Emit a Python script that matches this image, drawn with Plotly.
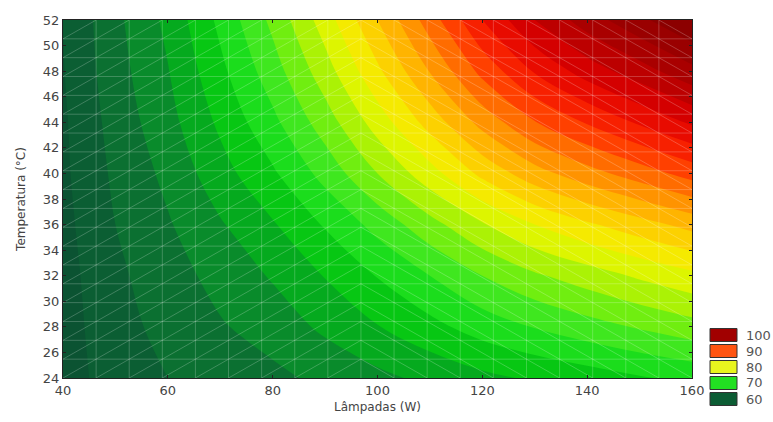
import numpy as np
import plotly.graph_objects as go

# Lâmpadas (W) grid positions
lampadas = [40, 50, 60, 70, 80, 90, 100, 110, 120, 130, 140, 150, 160]
# Temperatura (°C) grid positions
temperatura = [24, 28, 32, 36, 40, 44, 48, 52]

# response values (rows = temperatura, cols = lampadas)
z_t24 = [57.0, 59.0, 60.0, 60.8, 61.5, 62.5, 63.5, 64.5, 65.5, 66.3, 67.0, 67.8, 68.5]
z_t28 = [57.1, 59.3, 60.6, 61.8, 62.9, 64.4, 65.9, 67.4, 68.9, 70.1, 71.2, 72.2, 73.2]
z_t32 = [57.2, 59.6, 61.1, 62.7, 64.2, 66.1, 68.1, 70.0, 72.0, 73.7, 75.0, 76.3, 77.5]
z_t36 = [57.4, 60.0, 61.8, 63.8, 65.8, 68.2, 70.7, 73.3, 75.8, 78.0, 79.7, 81.2, 82.7]
z_t40 = [57.6, 60.4, 62.5, 65.2, 67.7, 70.7, 74.0, 77.2, 80.5, 83.2, 85.2, 87.0, 88.8]
z_t44 = [57.7, 60.8, 63.3, 66.4, 69.5, 73.0, 76.9, 80.8, 84.7, 87.9, 90.2, 92.3, 94.3]
z_t48 = [57.9, 61.2, 63.9, 67.5, 71.1, 75.1, 79.6, 84.1, 88.6, 92.2, 94.9, 97.1, 99.4]
z_t52 = [58.0, 61.5, 64.5, 68.5, 72.5, 77.0, 82.0, 87.0, 92.0, 96.0, 99.0, 101.5, 104.0]
z_rows = [z_t24, z_t28, z_t32, z_t36, z_t40, z_t44, z_t48, z_t52]

x_ticks = [40, 60, 80, 100, 120, 140, 160]
y_ticks = [24, 26, 28, 30, 32, 34, 36, 38, 40, 42, 44, 46, 48, 50, 52]

legend_levels = [100, 90, 80, 70, 60]
legend_colors = ["#a10000", "#ff5512", "#e8f51e", "#22e022", "#0c5c34"]

z_min, z_max = 56, 106
scale_stops = [
    (56, "#0a4e30"), (58, "#0b5834"), (60, "#0b6432"), (62, "#0a7c30"),
    (63.5, "#089228"), (65, "#05aa1e"), (66.5, "#02c014"), (68, "#10d612"),
    (70, "#26e426"), (73, "#70ee10"), (76, "#c8f400"), (78, "#f2f600"),
    (82, "#ffc400"), (86, "#ff8200"), (90, "#ff2a00"), (94, "#e00000"),
    (98, "#b00000"), (106, "#760000"),
]
colorscale = [[(v - z_min) / (z_max - z_min), c] for v, c in scale_stops]

fig = go.Figure()
fig.add_trace(go.Contour(
    x=lampadas, y=temperatura, z=z_rows,
    colorscale=colorscale, zmin=z_min, zmax=z_max,
    contours=dict(start=z_min, end=z_max, size=2, coloring="fill", showlines=False),
    line=dict(width=0), showscale=False, hoverinfo="skip",
))

# light mesh of the fitted surface (20 x 20 nodes)
mesh_L = np.linspace(lampadas[0], lampadas[-1], 20)
mesh_T = np.linspace(temperatura[0], temperatura[-1], 20)
mx, my = [], []
for L in mesh_L[1:-1]:
    mx += [L, L, None]; my += [mesh_T[0], mesh_T[-1], None]
for T in mesh_T[1:-1]:
    mx += [mesh_L[0], mesh_L[-1], None]; my += [T, T, None]
for i in range(len(mesh_L) - 1):
    for j in range(len(mesh_T) - 1):
        if i < 9:
            mx += [mesh_L[i], mesh_L[i + 1], None]; my += [mesh_T[j], mesh_T[j + 1], None]
        else:
            mx += [mesh_L[i], mesh_L[i + 1], None]; my += [mesh_T[j + 1], mesh_T[j], None]
fig.add_trace(go.Scatter(x=mx, y=my, mode="lines",
                         line=dict(color="rgba(255,255,255,0.22)", width=1),
                         hoverinfo="skip", showlegend=False))

font_family = "DejaVu Sans"
axis_common = dict(showline=True, linecolor="#222", linewidth=1, mirror="ticks",
                   ticks="inside", ticklen=3, tickcolor="#222", showgrid=False,
                   zeroline=False, tickfont=dict(family=font_family, size=13, color="#444"))
fig.update_layout(
    width=773, height=422,
    margin=dict(l=63, r=81, t=20, b=44, autoexpand=False),
    paper_bgcolor="white", plot_bgcolor="white",
    showlegend=False,
    xaxis=dict(range=[40, 160], tickvals=x_ticks, **axis_common,
               title=dict(text="Lâmpadas (W)", standoff=6,
                          font=dict(family=font_family, size=12, color="#444"))),
    yaxis=dict(range=[24, 52], tickvals=y_ticks, **axis_common,
               title=dict(text="Temperatura (°C)", standoff=14,
                          font=dict(family=font_family, size=12, color="#444"))),
)

# legend: swatches + labels placed beyond the plot area
plot_w = 773 - 63 - 81
plot_h = 422 - 20 - 44
for k, (lev, col) in enumerate(zip(legend_levels, legend_colors)):
    cy_px = 335 + k * 16  # centre in page pixels
    y0 = (378 - (cy_px + 6.5)) / plot_h
    y1 = (378 - (cy_px - 6.5)) / plot_h
    x0 = (710 - 63) / plot_w
    x1 = (737 - 63) / plot_w
    fig.add_shape(type="rect", xref="paper", yref="paper", x0=x0, x1=x1, y0=y0, y1=y1,
                  fillcolor=col, line=dict(color="#333", width=1))
    fig.add_annotation(xref="paper", yref="paper", x=(744 - 63) / plot_w, y=(y0 + y1) / 2,
                       text=str(lev), showarrow=False, xanchor="left", yanchor="middle",
                       font=dict(family=font_family, size=13, color="#555"))

fig.write_html("out.html", config={"displayModeBar": False})
# remove the browser's default page margin so the figure sits at the top-left corner
with open("out.html", encoding="utf-8") as fh:
    html = fh.read()
html = html.replace("<head>", "<head><style>html,body{margin:0;padding:0;overflow:hidden;}</style>", 1)
with open("out.html", "w", encoding="utf-8") as fh:
    fh.write(html)
